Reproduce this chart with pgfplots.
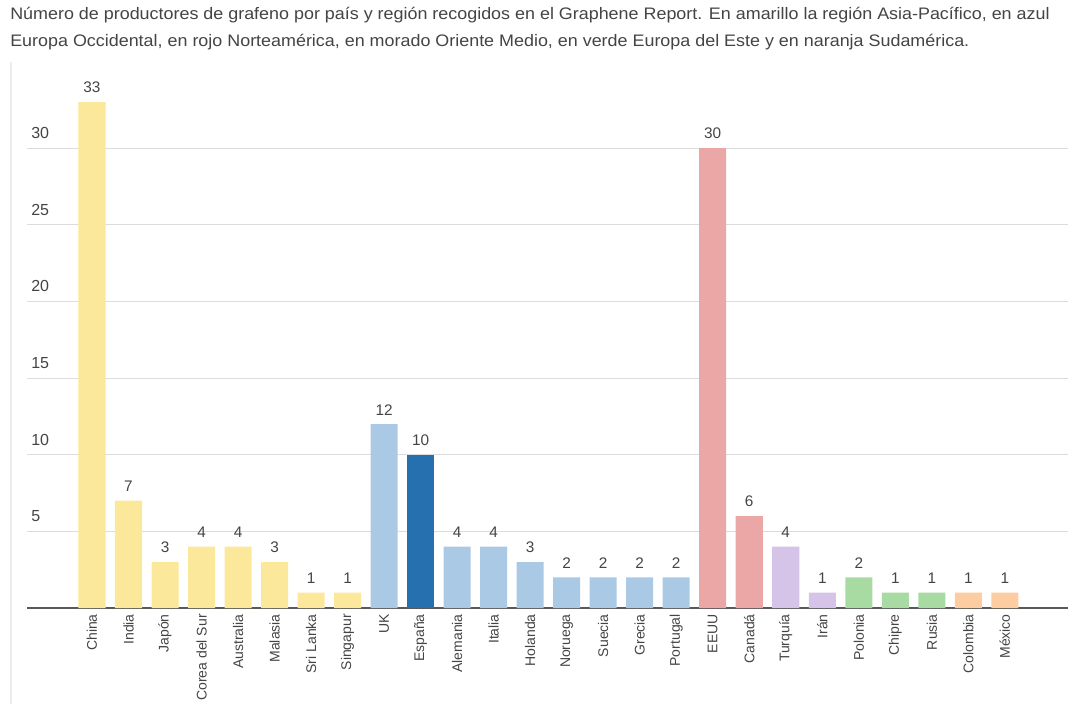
\documentclass[border=0pt]{standalone}
\usepackage{pgfplots}
\pgfplotsset{compat=1.18}
\usepackage{fontspec}
\setmainfont{Liberation Sans}
\definecolor{cyel}{HTML}{FCE89A}
\definecolor{clblue}{HTML}{A9C9E4}
\definecolor{cdblue}{HTML}{2670B0}
\definecolor{cred}{HTML}{EBA6A6}
\definecolor{cpur}{HTML}{D5C3E8}
\definecolor{cgreen}{HTML}{A8DBA2}
\definecolor{corange}{HTML}{FDCCA0}
\definecolor{ctext}{HTML}{444444}
\definecolor{cgrid}{HTML}{DCDCDC}
\begin{document}
\begin{tikzpicture}
\path[use as bounding box] (0pt,0pt) rectangle (801pt,528pt);
\draw[color=black!7, line width=1.2pt] (8.25pt,0pt) -- (8.25pt,481.5pt);
\node[anchor=base west, inner sep=0pt, text=ctext, font=\fontsize{12.5}{14}\selectfont, xscale=1.075] at (7.5pt,513pt) {Número de productores de grafeno por país y región recogidos en el Graphene Report. En amarillo la región Asia-Pacífico, en azul};
\node[anchor=base west, inner sep=0pt, text=ctext, font=\fontsize{12.5}{14}\selectfont, xscale=1.075] at (7.5pt,492.75pt) {Europa Occidental, en rojo Norteamérica, en morado Oriente Medio, en verde Europa del Este y en naranja Sudamérica.};
\begin{axis}[
  at={(20.25pt,72pt)}, anchor=south west,
  scale only axis, width=780.75pt, height=402.5pt,
  xmin=-1.78, xmax=26.73, ymin=0, ymax=35,
  /pgf/number format/assume math mode=true,
  ybar, bar width=0.74, bar shift=0pt,
  axis line style={draw=none},
  major tick length=0pt,
  ytick={5,10,15,20,25,30},
  ymajorgrids, grid style={cgrid, line width=0.75pt},
  extra y ticks={0}, extra y tick labels={},
  extra y tick style={grid style={color=black!65, line width=1.5pt}},
  yticklabel style={anchor=south west, inner sep=0pt, xshift=3pt, yshift=6.75pt, text=ctext, font=\fontsize{12}{14}\selectfont},
  xtick={0,...,25},
  xticklabels={China,India,Japón,Corea del Sur,Australia,Malasia,Sri Lanka,Singapur,UK,España,Alemania,Italia,Holanda,Noruega,Suecia,Grecia,Portugal,EEUU,Canadá,Turquía,Irán,Polonia,Chipre,Rusia,Colombia,México},
  xticklabel style={rotate=90, anchor=east, inner sep=0pt, xshift=-4.5pt, text=ctext, font=\fontsize{10.5}{12}\selectfont},
  nodes near coords,
  nodes near coords style={anchor=south, inner sep=0pt, yshift=6.5pt, text=ctext, font=\fontsize{11.5}{13}\selectfont},
  every axis plot/.append style={draw=none},
]
\addplot[fill=cyel] coordinates {(0,33) (1,7) (2,3) (3,4) (4,4) (5,3) (6,1) (7,1)};
\addplot[fill=clblue] coordinates {(8,12) (10,4) (11,4) (12,3) (13,2) (14,2) (15,2) (16,2)};
\addplot[fill=cdblue] coordinates {(9,10)};
\addplot[fill=cred] coordinates {(17,30) (18,6)};
\addplot[fill=cpur] coordinates {(19,4) (20,1)};
\addplot[fill=cgreen] coordinates {(21,2) (22,1) (23,1)};
\addplot[fill=corange] coordinates {(24,1) (25,1)};
\end{axis}
\end{tikzpicture}
\end{document}
